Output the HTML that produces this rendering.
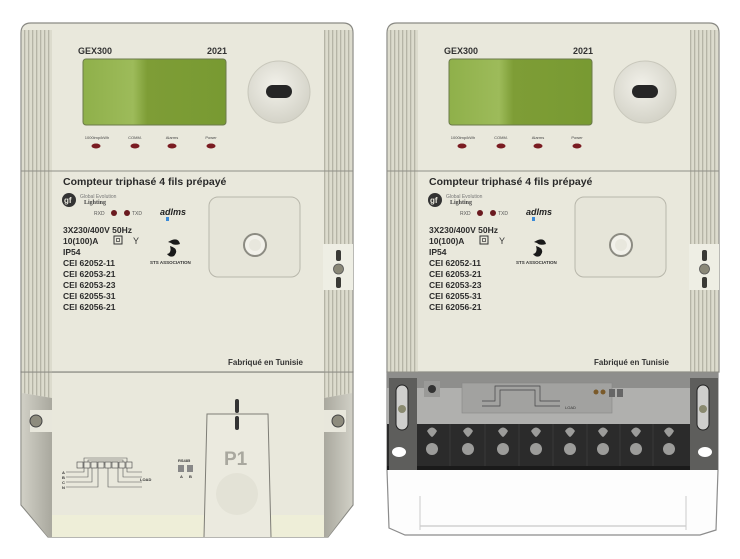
<!DOCTYPE html>
<html><head><meta charset="utf-8"><style>
html,body{margin:0;padding:0;background:#fff;}
svg{display:block;font-family:"Liberation Sans",sans-serif;}
</style></head><body>
<svg width="740" height="559" viewBox="0 0 740 559" xmlns="http://www.w3.org/2000/svg">
<defs>
<pattern id="rib" width="4" height="10" patternUnits="userSpaceOnUse">
<rect width="4" height="10" fill="#dcdbcd"/><rect width="1.3" height="10" fill="#b5b4a6"/>
</pattern>
<linearGradient id="lcd" x1="0" x2="1" y1="0" y2="0">
<stop offset="0" stop-color="#8fb04a"/><stop offset="0.35" stop-color="#9dbb5a"/><stop offset="0.45" stop-color="#7e9d36"/><stop offset="1" stop-color="#789a32"/>
</linearGradient>
<linearGradient id="side" x1="0" x2="1" y1="0" y2="0">
<stop offset="0" stop-color="#d0cfc5"/><stop offset="1" stop-color="#a9a89e"/>
</linearGradient>
<linearGradient id="side2" x1="1" x2="0" y1="0" y2="0">
<stop offset="0" stop-color="#d0cfc5"/><stop offset="1" stop-color="#a9a89e"/>
</linearGradient>
<radialGradient id="port" cx="0.45" cy="0.4" r="0.6">
<stop offset="0" stop-color="#f2f1ea"/><stop offset="1" stop-color="#d4d3c8"/>
</radialGradient>
<g id="top">
<path d="M21 372 V33 Q21 23 31 23 H343 Q353 23 353 33 V372 Z" fill="#e9e8dc" stroke="#8a8a84" stroke-width="1.2"/>
<rect x="22" y="30" width="30" height="342" fill="url(#rib)"/>
<rect x="324" y="30" width="28" height="214" fill="url(#rib)"/>
<rect x="324" y="290" width="28" height="82" fill="url(#rib)"/>
<rect x="323" y="244" width="30" height="46" fill="#eeeee4"/>
<rect x="336" y="250" width="5" height="11" rx="2" fill="#3a3a36"/>
<circle cx="338.5" cy="269" r="5" fill="#8a8878" stroke="#555" stroke-width="0.8"/>
<rect x="336" y="277" width="5" height="11" rx="2" fill="#3a3a36"/>
<line x1="21" y1="171" x2="353" y2="171" stroke="#8f8f88" stroke-width="1"/>
<line x1="21" y1="372" x2="353" y2="372" stroke="#8f8f88" stroke-width="1"/>
<text x="78" y="54" font-size="9" font-weight="bold" fill="#333">GEX300</text>
<text x="207" y="54" font-size="9" font-weight="bold" fill="#333">2021</text>
<rect x="83" y="59" width="143" height="66" rx="3" fill="url(#lcd)" stroke="#6b7a4a" stroke-width="1"/>
<circle cx="279" cy="92" r="31" fill="url(#port)" stroke="#c8c7bb"/>
<rect x="266" y="85" width="26" height="13" rx="6.5" fill="#262626"/>
<g font-size="4" fill="#444" text-anchor="middle">
<text x="97" y="139">1000imp/kWh</text><text x="135" y="139">COMM.</text><text x="172" y="139">Alarms</text><text x="211" y="139">Power</text>
</g>
<g fill="#7a1c22"><ellipse cx="96" cy="146" rx="4.5" ry="2.5"/><ellipse cx="135" cy="146" rx="4.5" ry="2.5"/><ellipse cx="172" cy="146" rx="4.5" ry="2.5"/><ellipse cx="211" cy="146" rx="4.5" ry="2.5"/></g>
<text x="63" y="185" font-size="10.5" font-weight="bold" fill="#2a2a2a">Compteur triphasé 4 fils prépayé</text>
<circle cx="69" cy="200" r="7" fill="#333"/><text x="64" y="203" font-size="8" fill="#eae9de" font-weight="bold">gf</text>
<text x="80" y="198" font-size="5" fill="#777">Global Evolution</text>
<text x="84" y="204" font-size="6" font-weight="bold" fill="#444" font-family="Liberation Serif">Lighting</text>
<text x="94" y="215" font-size="5" fill="#555">RXD</text>
<circle cx="114" cy="213" r="3" fill="#6a1a20"/><circle cx="127" cy="213" r="3" fill="#6a1a20"/>
<text x="132" y="215" font-size="5" fill="#555">TXD</text>
<text x="160" y="215" font-size="9" font-weight="bold" font-style="italic" fill="#222">adlms</text>
<rect x="166" y="217" width="3" height="4" fill="#3a8ad8"/>
<g font-size="8.5" font-weight="bold" fill="#2c2c2c">
<text x="63" y="233">3X230/400V   50Hz</text>
<text x="63" y="244">10(100)A</text>
<text x="63" y="255">IP54</text>
<text x="63" y="266">CEI 62052-11</text>
<text x="63" y="277">CEI 62053-21</text>
<text x="63" y="288">CEI 62053-23</text>
<text x="63" y="299">CEI 62055-31</text>
<text x="63" y="310">CEI 62056-21</text>
</g>
<rect x="114" y="236" width="8" height="8" fill="none" stroke="#333" stroke-width="1"/><rect x="116.5" y="238.5" width="3" height="3" fill="none" stroke="#333" stroke-width="0.7"/>
<text x="133" y="244" font-size="9" fill="#333">Y</text>
<path d="M168 242 q10 -6 12 2 q-6 2 -9 -1 z M170 246 q10 3 4 10 q-4 2 -7 -2 q5 -1 3 -8 z" fill="#1a1a1a"/>
<text x="150" y="264" font-size="4.5" font-weight="bold" fill="#333">STS ASSOCIATION</text>
<rect x="209" y="197" width="91" height="80" rx="9" fill="#e6e5d9" stroke="#b8b7ab"/>
<circle cx="255" cy="245" r="11" fill="#f2f1ea" stroke="#8c8b82" stroke-width="2"/>
<circle cx="255" cy="245" r="6" fill="#e8e7dd"/>
<text x="228" y="365" font-size="8" font-weight="bold" fill="#333">Fabriqué en Tunisie</text>
</g>
</defs>

<!-- LEFT METER bottom -->
<path d="M21 372 L353 372 L353 505 L328 537 L48 537 L21 505 Z" fill="#e9e8dc" stroke="#8a8a84" stroke-width="1.2"/>
<rect x="52" y="515" width="273" height="22" fill="#eeeed8"/>
<path d="M22 372 L52 372 L52 398 L22 393 Z" fill="url(#rib)"/>
<path d="M22 393 L52 398 L52 537 L48 537 L22 505 Z" fill="url(#side)"/>
<path d="M352 372 L324 372 L324 398 L352 393 Z" fill="url(#rib)"/>
<path d="M352 393 L324 398 L324 537 L328 537 L352 505 Z" fill="url(#side2)"/>
<rect x="30" y="410" width="22" height="22" fill="#e8e7dc"/>
<rect x="324" y="410" width="22" height="22" fill="#e8e7dc"/>
<circle cx="36" cy="421" r="6" fill="#8e8c7e" stroke="#444" stroke-width="1"/>
<circle cx="338" cy="421" r="6" fill="#8e8c7e" stroke="#444" stroke-width="1"/>
<path d="M204 537 L207 414 L268 414 L271 537" fill="#ebeadf" stroke="#7e7d76" stroke-width="1"/>
<rect x="235" y="399" width="4" height="14" rx="2" fill="#333"/>
<rect x="235" y="416" width="4" height="14" rx="2" fill="#333"/>
<text x="224" y="465" font-size="19" font-weight="bold" fill="#a9a89f">P1</text>
<circle cx="237" cy="494" r="21" fill="#e3e2d6"/>
<g stroke="#555" stroke-width="0.6" fill="none">
<path d="M66 472 H84 V458 H127 V472 H142"/><path d="M66 477 H88 V460 H123 V477 H142"/>
<path d="M66 482 H92 V462 H118 V482 H142"/><path d="M66 487 H98 V464 H108 V487 H142"/>
</g>
<g fill="#eae9de" stroke="#444" stroke-width="0.6">
<rect x="77" y="462" width="6" height="6"/><rect x="84" y="462" width="6" height="6"/><rect x="91" y="462" width="6" height="6"/><rect x="98" y="462" width="6" height="6"/><rect x="105" y="462" width="6" height="6"/><rect x="112" y="462" width="6" height="6"/><rect x="119" y="462" width="6" height="6"/><rect x="126" y="462" width="6" height="6"/>
</g>
<g font-size="4" fill="#333" font-weight="bold"><text x="62" y="474">A</text><text x="62" y="479">B</text><text x="62" y="484">C</text><text x="62" y="489">N</text><text x="140" y="481">LOAD</text>
<text x="178" y="462">RS485</text><text x="180" y="478">A</text><text x="189" y="478">B</text></g>
<rect x="178" y="465" width="6" height="7" fill="#888"/><rect x="187" y="465" width="6" height="7" fill="#888"/>

<use href="#top"/>

<!-- RIGHT METER bottom -->
<path d="M387 372 L718 372 L718 470 L716 530 L700 535 L405 535 L389 528 L387 470 Z" fill="#fdfdfd" stroke="#8c8c8c" stroke-width="1.2"/>
<rect x="387" y="372" width="331" height="16" fill="#8e8e8c"/>
<rect x="387" y="388" width="331" height="36" fill="#b0b0ae"/>
<rect x="387" y="424" width="331" height="46" fill="#2b2b2b"/>
<rect x="387" y="466" width="331" height="4" fill="#1a1a1a"/>
<rect x="389" y="378" width="28" height="92" fill="#5e5e5c"/>
<rect x="690" y="378" width="28" height="92" fill="#5e5e5c"/>
<rect x="396" y="385" width="12" height="45" rx="6" fill="#cfcfcd" stroke="#222"/>
<rect x="697" y="385" width="12" height="45" rx="6" fill="#cfcfcd" stroke="#222"/>
<circle cx="402" cy="409" r="4" fill="#8a8a70"/><circle cx="703" cy="409" r="4" fill="#8a8a70"/>
<ellipse cx="399" cy="452" rx="7" ry="5" fill="#fff"/><ellipse cx="705" cy="452" rx="7" ry="5" fill="#fff"/>
<rect x="424" y="381" width="16" height="16" fill="#9a9a98"/><circle cx="432" cy="389" r="4" fill="#333"/>
<rect x="462" y="383" width="150" height="30" fill="#a2a2a0" stroke="#888" stroke-width="0.6"/>
<g stroke="#444" stroke-width="0.7" fill="none"><path d="M482 401 H495 V386 H540 V401 H560"/><path d="M482 406 H500 V390 H535 V406 H560"/></g>
<text x="565" y="409" font-size="4" fill="#333">LOAD</text>
<circle cx="596" cy="392" r="2.5" fill="#7a5a2a"/><circle cx="603" cy="392" r="2.5" fill="#7a5a2a"/>
<rect x="609" y="389" width="6" height="8" fill="#666"/><rect x="617" y="389" width="6" height="8" fill="#666"/>
<g fill="#9c9c9a">
<g transform="translate(432,0)"><path d="M-5 431 Q0 424 5 431 Q2 436 0 437 Q-2 436 -5 431Z"/><ellipse cx="0" cy="449" rx="6" ry="6"/></g>
<g transform="translate(468,0)"><path d="M-5 431 Q0 424 5 431 Q2 436 0 437 Q-2 436 -5 431Z"/><ellipse cx="0" cy="449" rx="6" ry="6"/></g>
<g transform="translate(503,0)"><path d="M-5 431 Q0 424 5 431 Q2 436 0 437 Q-2 436 -5 431Z"/><ellipse cx="0" cy="449" rx="6" ry="6"/></g>
<g transform="translate(536,0)"><path d="M-5 431 Q0 424 5 431 Q2 436 0 437 Q-2 436 -5 431Z"/><ellipse cx="0" cy="449" rx="6" ry="6"/></g>
<g transform="translate(570,0)"><path d="M-5 431 Q0 424 5 431 Q2 436 0 437 Q-2 436 -5 431Z"/><ellipse cx="0" cy="449" rx="6" ry="6"/></g>
<g transform="translate(603,0)"><path d="M-5 431 Q0 424 5 431 Q2 436 0 437 Q-2 436 -5 431Z"/><ellipse cx="0" cy="449" rx="6" ry="6"/></g>
<g transform="translate(636,0)"><path d="M-5 431 Q0 424 5 431 Q2 436 0 437 Q-2 436 -5 431Z"/><ellipse cx="0" cy="449" rx="6" ry="6"/></g>
<g transform="translate(669,0)"><path d="M-5 431 Q0 424 5 431 Q2 436 0 437 Q-2 436 -5 431Z"/><ellipse cx="0" cy="449" rx="6" ry="6"/></g>
</g>
<g stroke="#444" stroke-width="0.6"><line x1="450" y1="424" x2="450" y2="466"/><line x1="485" y1="424" x2="485" y2="466"/><line x1="519" y1="424" x2="519" y2="466"/><line x1="553" y1="424" x2="553" y2="466"/><line x1="587" y1="424" x2="587" y2="466"/><line x1="620" y1="424" x2="620" y2="466"/><line x1="653" y1="424" x2="653" y2="466"/></g>
<line x1="420" y1="526" x2="686" y2="526" stroke="#bbb" stroke-width="1"/>
<line x1="420" y1="496" x2="420" y2="530" stroke="#ccc" stroke-width="1"/>
<line x1="686" y1="496" x2="686" y2="530" stroke="#ccc" stroke-width="1"/>

<use href="#top" x="366"/>
</svg>
</body></html>
